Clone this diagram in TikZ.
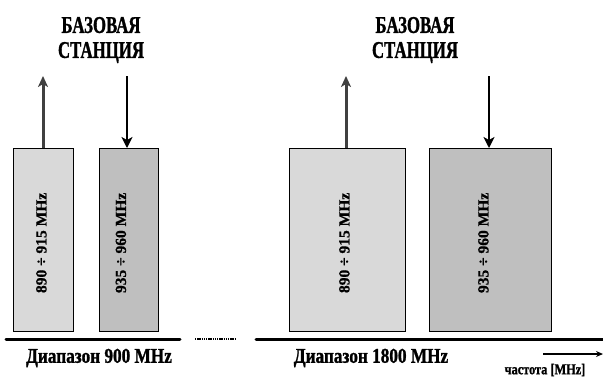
\documentclass[tikz,border=0pt]{standalone}
\usepackage{fontspec}
\setmainfont{Liberation Serif}
\newfontfamily\condfont{Liberation Serif Bold}[FakeStretch=0.82, FakeBold=1.2]
\newfontfamily\narrowfont{Liberation Serif Bold}[FakeStretch=0.7, FakeBold=1.2]
\newfontfamily\plainbold{Liberation Serif Bold}[FakeBold=0.8]
\usetikzlibrary{arrows.meta}
\begin{document}
\begin{tikzpicture}[x=1pt, y=1pt, every node/.style={font=\condfont},
  band/.style={draw, line width=0.8pt, inner sep=0pt, anchor=north west},
  uplink/.style={-{Stealth[length=11pt,width=10pt,inset=3pt]}, line width=3pt, black!75},
  downlink/.style={-{Stealth[length=11pt,width=11pt,inset=3pt]}, line width=1.8pt, black},
  freq/.style={rotate=90, font=\plainbold\fontsize{15.5}{15.5}\selectfont},
  title/.style={align=center, font=\narrowfont\fontsize{24}{25}\selectfont},
  bandname/.style={font=\condfont\fontsize{21}{21}\selectfont}]
\useasboundingbox (0,0) rectangle (603,-376);
% 900 MHz band
\node[band, fill=gray!30, minimum width=60pt, minimum height=183pt] (ul900) at (13,-148) {};
\node[band, fill=gray!50, minimum width=59pt, minimum height=183pt] (dl900) at (99,-148) {};
\node[freq] (ulf900) at ([xshift=-2pt,yshift=-3pt]ul900.center) {890 ÷ 915 MHz};
\node[freq] (dlf900) at ([xshift=-8pt,yshift=-3pt]dl900.center) {935 ÷ 960 MHz};
\node[title] (bs900) at (101,-40) {БАЗОВАЯ\\СТАНЦИЯ};
\coordinate (ultop900) at (43,-76);
\coordinate (dltop900) at (127,-76);
\draw[uplink] (ul900.north -| ultop900) -- (ultop900);
\draw[downlink] (dltop900) -- (dl900.north -| dltop900);
% 1800 MHz band
\node[band, fill=gray!30, minimum width=116pt, minimum height=183pt] (ul1800) at (289,-148) {};
\node[band, fill=gray!50, minimum width=122pt, minimum height=183pt] (dl1800) at (429,-148) {};
\node[freq] (ulf1800) at ([xshift=-3pt,yshift=-3pt]ul1800.center) {890 ÷ 915 MHz};
\node[freq] (dlf1800) at ([xshift=-7pt,yshift=-3pt]dl1800.center) {935 ÷ 960 MHz};
\node[title] (bs1800) at (415,-40) {БАЗОВАЯ\\СТАНЦИЯ};
\coordinate (ultop1800) at (346,-76);
\coordinate (dltop1800) at (489,-76);
\draw[uplink] (ul1800.north -| ultop1800) -- (ultop1800);
\draw[downlink] (dltop1800) -- (dl1800.north -| dltop1800);
% frequency axis
\draw[line width=3pt, line cap=round] (6,-339) -- (180,-339);
\draw[line width=1.6pt, dash pattern=on 1.4pt off 0.8pt] (195,-339) -- (235,-339);
\draw[line width=3pt, line cap=round] (256,-339) -- (603,-339);
\node[bandname] (lbl900) at (99,-358) {Диапазон 900 MHz};
\node[bandname] (lbl1800) at (371,-358) {Диапазон 1800 MHz};
\coordinate (axstart) at (543,-354);
\coordinate (axend) at (603,-354);
\draw[-{Stealth[length=7pt,width=6pt]}, line width=1.2pt] (axstart) -- (axend);
\node[font=\condfont\fontsize{15}{15}\selectfont] (unit) at (545,-370) {частота [MHz]};
\end{tikzpicture}
\end{document}
